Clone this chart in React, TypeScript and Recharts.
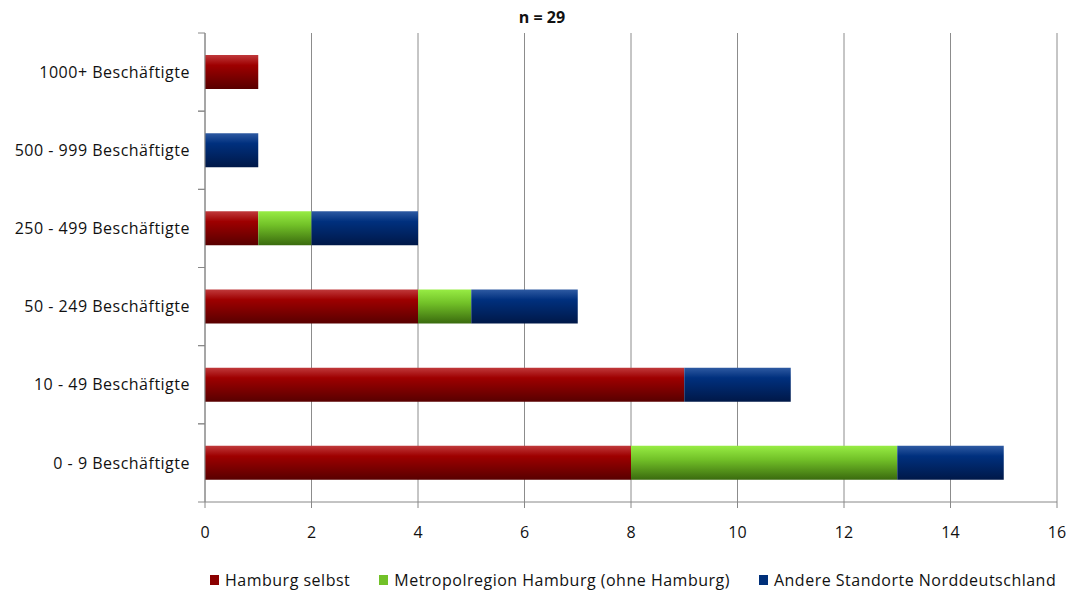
import React from 'react';
import { BarChart, Bar, XAxis, YAxis, CartesianGrid } from 'recharts';

const categories = [
  '1000+ Beschäftigte',
  '500 - 999 Beschäftigte',
  '250 - 499 Beschäftigte',
  '50 - 249 Beschäftigte',
  '10 - 49 Beschäftigte',
  '0 - 9 Beschäftigte',
];
const hamburg = [1, 0, 1, 4, 9, 8];
const metro = [0, 0, 1, 1, 0, 5];
const andere = [0, 1, 2, 2, 2, 2];
const xTicks = [0, 2, 4, 6, 8, 10, 12, 14, 16];

const series = [
  { key: 'hamburg', name: 'Hamburg selbst', grad: 'gRed', swatch: '#8b0000' },
  { key: 'metro', name: 'Metropolregion Hamburg (ohne Hamburg)', grad: 'gGreen', swatch: '#72c128' },
  { key: 'andere', name: 'Andere Standorte Norddeutschland', grad: 'gBlue', swatch: '#00307a' },
];

const data = categories.map((c, i) => ({
  cat: c,
  hamburg: hamburg[i],
  metro: metro[i],
  andere: andere[i],
}));

const FONT = "'Open Sans', sans-serif";
const FS = 16;
const LS = 0.5;
const BAND = (502 - 33) / categories.length;

// y axis label plus the Excel-style tick marks at the band edges
const CatTick = (props: any) => {
  const { x, y, payload } = props;
  const ax = x + 8;
  return (
    <g>
      <line x1={ax - 7} x2={ax} y1={y - BAND / 2} y2={y - BAND / 2} stroke="#888" />
      <line x1={ax - 7} x2={ax} y1={y + BAND / 2} y2={y + BAND / 2} stroke="#888" />
      <text x={ax - 15} y={y} dy="0.35em" textAnchor="end" fontSize={FS} letterSpacing={LS} fill="#111" fontFamily={FONT}>
        {payload.value}
      </text>
    </g>
  );
};

export default function App() {
  return (
    <div style={{ position: 'absolute', left: 0, top: 0, width: 1073, height: 592, background: '#fff' }}>
      <div style={{ position: 'absolute', top: 6, left: 502, width: 80, textAlign: 'center', fontFamily: FONT, fontWeight: 'bold', fontSize: 16, color: '#111' }}>
        n = 29
      </div>
      <BarChart
        width={1073}
        height={592}
        data={data}
        layout="vertical"
        margin={{ top: 33, right: 16, left: 0, bottom: 0 }}
        barSize={34}
      >
        <defs>
          <linearGradient id="gRed" x1="0" y1="0" x2="0" y2="1">
            <stop offset="0%" stopColor="#c0393b" />
            <stop offset="30%" stopColor="#9e0000" />
            <stop offset="100%" stopColor="#580000" />
          </linearGradient>
          <linearGradient id="gGreen" x1="0" y1="0" x2="0" y2="1">
            <stop offset="0%" stopColor="#97ec44" />
            <stop offset="40%" stopColor="#72c128" />
            <stop offset="100%" stopColor="#3a6a0e" />
          </linearGradient>
          <linearGradient id="gBlue" x1="0" y1="0" x2="0" y2="1">
            <stop offset="0%" stopColor="#2e5aa2" />
            <stop offset="30%" stopColor="#00307e" />
            <stop offset="100%" stopColor="#001848" />
          </linearGradient>
        </defs>
        <CartesianGrid horizontal={false} stroke="#8c8c8c" />
        <XAxis
          type="number"
          domain={[0, 16]}
          ticks={xTicks}
          height={90}
          stroke="#888"
          tickSize={6}
          tickMargin={19}
          tick={{ fill: '#111', fontSize: FS, fontFamily: FONT }}
          interval={0}
        />
        <YAxis
          type="category"
          dataKey="cat"
          width={205}
          stroke="#888"
          tickLine={false}
          tick={<CatTick />}
          interval={0}
        />
        {series.map((s) => (
          <Bar key={s.key} dataKey={s.key} name={s.name} stackId="a" fill={`url(#${s.grad})`} isAnimationActive={false} />
        ))}
      </BarChart>
      <div style={{ position: 'absolute', top: 570, left: 210, display: 'flex', fontFamily: FONT, fontSize: FS, letterSpacing: LS, color: '#111', lineHeight: '20px' }}>
        {series.map((s, i) => (
          <div key={s.key} style={{ display: 'flex', alignItems: 'center', marginRight: i < 2 ? 29 : 0 }}>
            <span style={{ display: 'inline-block', width: 9, height: 10, background: s.swatch, marginRight: 6 }} />
            {s.name}
          </div>
        ))}
      </div>
    </div>
  );
}
